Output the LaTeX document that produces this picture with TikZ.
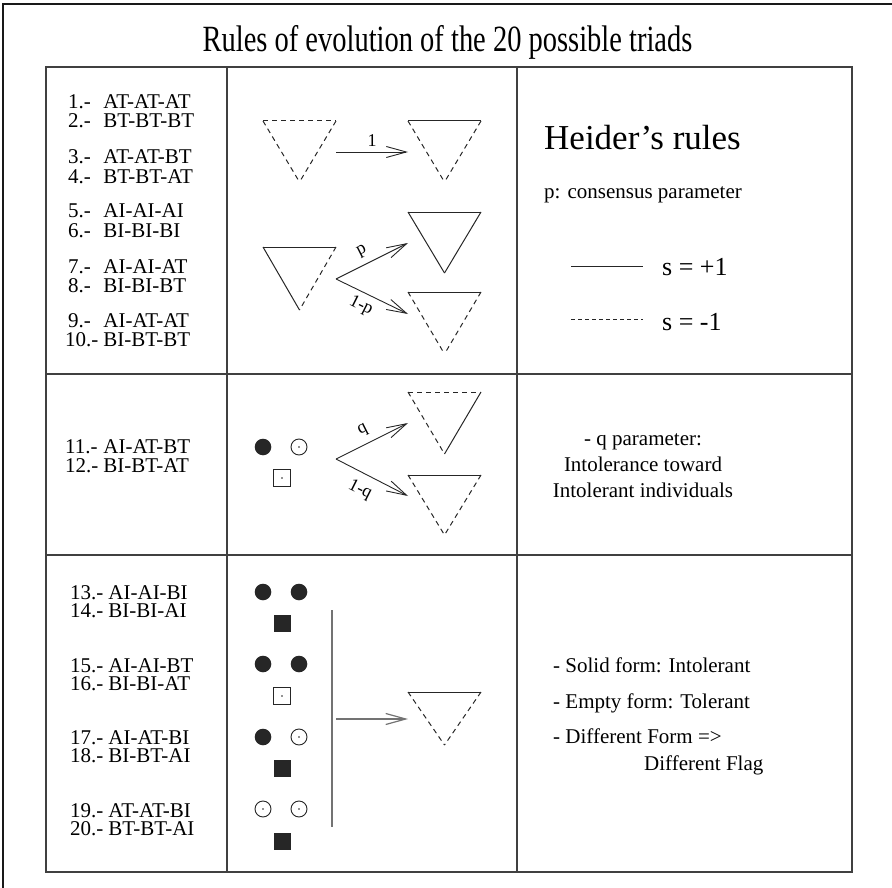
\documentclass[tikz,border=0pt]{standalone}
\usepackage{fontspec}
\setmainfont{Liberation Serif}
\usetikzlibrary{arrows.meta}
\newcommand{\mytri}[7]{% name, x, y, height, top, left, right
  \coordinate (#1-tl) at (#2,#3);
  \coordinate (#1-tr) at ({#2+73},#3);
  \coordinate (#1-b) at ({#2+36.5},{#3+#4});
  \draw[#5] (#1-tl) -- (#1-tr);
  \draw[#6] (#1-tl) -- (#1-b);
  \draw[#7] (#1-tr) -- (#1-b);}
\newcommand{\mydisk}[2]{\fill[black!85] (#1,#2) circle (8.3);}
\newcommand{\mycirc}[2]{\draw[line width=0.9pt,black!85] (#1,#2) circle (8); \fill[black!85] (#1,#2) circle (0.8);}
\newcommand{\myfsq}[2]{\fill[black!85] ({#1-8.5},{#2-8.5}) rectangle ({#1+8.5},{#2+8.5});}
\newcommand{\myosq}[2]{\draw[line width=0.9pt,black!85] ({#1-8.5},{#2-8.5}) rectangle ({#1+8.5},{#2+8.5}); \fill[black!85] (#1,#2) circle (0.8);}
\begin{document}
\begin{tikzpicture}[x=1pt,y=-1pt,
  txt/.style={anchor=base west,inner sep=0pt,font=\fontsize{21}{21}\selectfont},
  ctxt/.style={anchor=base,inner sep=0pt,font=\fontsize{21}{21}\selectfont},
  albl/.style={inner sep=0pt,font=\fontsize{18}{18}\selectfont},
  gridline/.style={line width=1.5pt,draw=black!75},
  sol/.style={line width=1pt,draw=black!85},
  dsh/.style={line width=1pt,draw=black!85,dash pattern=on 5pt off 4pt},
  arr/.style={line width=0.9pt,draw=black!85,-{Straight Barb[length=20pt,width=11pt,line width=0.9pt]}},
  garr/.style={line width=1.2pt,draw=black!55,-{Straight Barb[length=20pt,width=11pt,line width=1.2pt]}}]
\useasboundingbox (0,0) rectangle (892,888);
% outer frame
\coordinate (fa) at (892,4); \coordinate (fb) at (3,4); \coordinate (fc) at (3,888);
\draw[line width=2.5pt,black!90] (fa) -- (fb) -- (fc);
% title
\node[anchor=base,inner sep=0pt,xscale=0.77,font=\fontsize{37}{37}\selectfont] (title) at (447.5,52) {Rules of evolution of the 20 possible triads};
% table
\draw[gridline] (46,67) rectangle (852,872);
\draw[gridline] (227,67) -- (227,872);
\draw[gridline] (517,67) -- (517,872);
\draw[gridline] (46,374) -- (852,374);
\draw[gridline] (46,555) -- (852,555);
% left column row 1
\node[txt] (l1) at (68,109) {\makebox[30pt][l]{1.-} AT-AT-AT};
\node[txt] (l2) at (68,128) {\makebox[30pt][l]{2.-} BT-BT-BT};
\node[txt] (l3) at (68,164) {\makebox[30pt][l]{3.-} AT-AT-BT};
\node[txt] (l4) at (68,183) {\makebox[30pt][l]{4.-} BT-BT-AT};
\node[txt] (l5) at (68,218) {\makebox[30pt][l]{5.-} AI-AI-AI};
\node[txt] (l6) at (68,237) {\makebox[30pt][l]{6.-} BI-BI-BI};
\node[txt] (l7) at (68,273) {\makebox[30pt][l]{7.-} AI-AI-AT};
\node[txt] (l8) at (68,292) {\makebox[30pt][l]{8.-} BI-BI-BT};
\node[txt] (l9) at (68,327) {\makebox[30pt][l]{9.-} AI-AT-AT};
\node[txt] (l10) at (65,346) {\makebox[33pt][l]{10.-} BI-BT-BT};
% left column row 2
\node[txt] (l11) at (65,453) {\makebox[33pt][l]{11.-} AI-AT-BT};
\node[txt] (l12) at (65,472) {\makebox[33pt][l]{12.-} BI-BT-AT};
% left column row 3
\node[txt] (l13) at (70,599) {\makebox[33pt][l]{13.-} AI-AI-BI};
\node[txt] (l14) at (70,617) {\makebox[33pt][l]{14.-} BI-BI-AI};
\node[txt] (l15) at (70,672) {\makebox[33pt][l]{15.-} AI-AI-BT};
\node[txt] (l16) at (70,690) {\makebox[33pt][l]{16.-} BI-BI-AT};
\node[txt] (l17) at (70,744) {\makebox[33pt][l]{17.-} AI-AT-BI};
\node[txt] (l18) at (70,762) {\makebox[33pt][l]{18.-} BI-BT-AI};
\node[txt] (l19) at (70,817) {\makebox[33pt][l]{19.-} AT-AT-BI};
\node[txt] (l20) at (70,835) {\makebox[33pt][l]{20.-} BT-BT-AI};
% middle row 1
\mytri{A}{263}{121}{61}{dsh}{dsh}{dsh}
\mytri{B}{408}{121}{61}{sol}{dsh}{dsh}
\coordinate (a1s) at (336,152); \coordinate (a1e) at (408,152);
\draw[arr] (a1s) -- node[albl,above=5pt] (one) {1} (a1e);
\mytri{C}{263}{247}{63}{sol}{sol}{dsh}
\mytri{D}{408}{212}{61}{sol}{sol}{sol}
\mytri{E}{408}{292}{62}{sol}{dsh}{dsh}
\coordinate (a2s) at (336,279); \coordinate (a2u) at (408,243); \coordinate (a2d) at (408,314);
\draw[arr] (a2s) -- (a2u);
\draw[arr] (a2s) -- (a2d);
\node[albl,rotate=26.6] (plab) at (362,251) {p};
\node[albl,rotate=-26.6] (qplab) at (361,306) {1-p};
% middle row 2
\mydisk{263}{447} \mycirc{299}{447} \myosq{282}{478}
\mytri{F}{408}{392}{62}{dsh}{dsh}{sol}
\mytri{G}{408}{475}{60}{sol}{dsh}{dsh}
\coordinate (a3s) at (336,459); \coordinate (a3u) at (408,423); \coordinate (a3d) at (408,496);
\draw[arr] (a3s) -- (a3u);
\draw[arr] (a3s) -- (a3d);
\node[albl,rotate=26.6] (qlab) at (363,430) {q};
\node[albl,rotate=-26.6] (oqlab) at (360,490) {1-q};
% middle row 3
\mydisk{263}{592} \mydisk{299}{592} \myfsq{282}{623}
\mydisk{263}{664} \mydisk{299}{664} \myosq{282}{696}
\mydisk{263}{737} \mycirc{299}{737} \myfsq{282}{768}
\mycirc{263}{809} \mycirc{299}{809} \myfsq{282}{841}
\coordinate (vt) at (332,610); \coordinate (vb) at (332,827);
\draw[line width=1.5pt,black!55] (vt) -- (vb);
\mytri{H}{408}{692}{53}{sol}{dsh}{dsh}
\coordinate (a4s) at (336,719); \coordinate (a4e) at (408,719);
\draw[garr] (a4s) -- (a4e);
% right column row 1
\node[anchor=base west,inner sep=0pt,font=\fontsize{35}{35}\selectfont] (heider) at (544,150) {Heider's rules};
\node[txt] (cons) at (544,199) {p: consensus parameter};
\coordinate (s1a) at (571,266); \coordinate (s1b) at (643,266);
\draw[line width=1pt,black!85] (s1a) -- (s1b);
\node[anchor=base west,inner sep=0pt,font=\fontsize{26}{26}\selectfont] (splus) at (662,275) {s = +1};
\coordinate (s2a) at (571,319); \coordinate (s2b) at (643,319);
\draw[line width=1pt,black!85,dash pattern=on 4pt off 3pt] (s2a) -- (s2b);
\node[anchor=base west,inner sep=0pt,font=\fontsize{26}{26}\selectfont] (sminus) at (662,330) {s = -1};
% right column row 2
\node[ctxt] (q1) at (643,445) {- q parameter:};
\node[ctxt] (q2) at (643,471) {Intolerance toward};
\node[ctxt] (q3) at (643,497) {Intolerant individuals};
% right column row 3
\node[txt] (r1) at (553,672) {- Solid form: Intolerant};
\node[txt] (r2) at (553,708) {- Empty form: Tolerant};
\node[txt] (r3) at (553,743) {- Different Form =>};
\node[txt] (r4) at (644,770) {Different Flag};
\end{tikzpicture}
\end{document}
